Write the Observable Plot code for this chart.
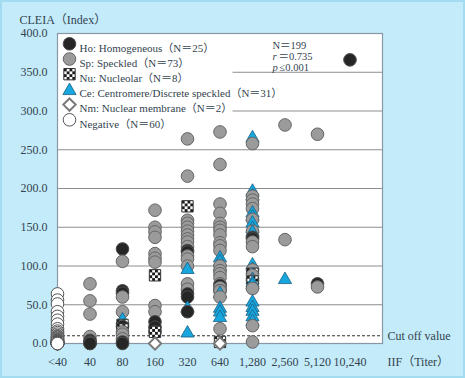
<!DOCTYPE html>
<html>
<head>
<meta charset="utf-8">
<script src="https://cdn.jsdelivr.net/npm/d3@7"></script>
<script src="https://cdn.jsdelivr.net/npm/@observablehq/plot@0.6"></script>
<style>
  html, body { margin: 0; padding: 0; }
  body {
    width: 465px; height: 378px; overflow: hidden;
    background: #c4ebf9;
    box-shadow: inset 0 0 0 2px #a3dcf0;
  }
  #chart svg { display: block; }
</style>
</head>
<body>
<div id="chart"></div>
<script>
// IIF titer categories along the x axis
const titers = ["<40", "40", "80", "160", "320", "640", "1,280", "2,560", "5,120", "10,240"];

// CLEIA index values per titer, one list per staining pattern
const homogeneous = [
  ["40", [4, 2, 1, 0, 0]],
  ["80", [122, 68, 65, 22, 2, 0]],
  ["160", [28, 21, 15]],
  ["320", [120, 118, 64, 60, 41]],
  ["640", [75, 68]],
  ["1,280", [137, 135]],
  ["5,120", [77]],
  ["10,240", [366]]
];
const speckled = [
  ["40", [77, 55, 38, 9]],
  ["80", [106, 60, 41, 15, 12, 6]],
  ["160", [172, 150, 144, 137, 116, 110, 105, 49, 41]],
  ["320", [264, 216, 159, 155, 150, 145, 140, 135, 131, 125, 113, 109, 100, 77, 70]],
  ["640", [273, 231, 180, 168, 155, 150, 146, 140, 130, 126, 120, 100, 94, 90, 85, 77, 72, 68, 60, 19]],
  ["1,280", [258, 190, 185, 180, 174, 160, 145, 131, 125, 95, 88, 81, 71, 23, 2]],
  ["2,560", [282, 134]],
  ["5,120", [270, 73]]
];
const nucleolar = [
  ["80", [24, 18]],
  ["160", [88, 15]],
  ["320", [177]],
  ["640", [2]],
  ["1,280", [90, 80]]
];
const centromere = [
  ["80", [32]],
  ["320", [97, 47, 15]],
  ["640", [112, 107, 101, 66, 47, 42, 35]],
  ["1,280", [267, 198, 192, 170, 165, 157, 150, 145, 103, 97, 90, 84, 80, 77, 55, 48, 43, 36, 30]],
  ["2,560", [84]]
];
const nuclearMembrane = [
  ["160", [0]],
  ["640", [0]]
];
const negative = [
  ["<40", [64, 56, 51, 41, 35, 30, 25, 19, 16, 14, 12, 10, 9, 8, 7, 6, 5, 4, 4, 3,
           3, 2, 2, 2, 1.5, 1.5, 1, 1, 1, 1, 0.8, 0.8, 0.6, 0.6, 0.5, 0.5, 0.5, 0.4, 0.4, 0.4,
           0.3, 0.3, 0.3, 0.3, 0.2, 0.2, 0.2, 0.2, 0.2, 0.1, 0.1, 0.1, 0.1, 0.1, 0, 0, 0, 0, 0, 0]]
];

const cutoff = 10;
const stats = { n: 199, r: "0.735", p: "0.001" };

// ---- drawing ----
const FONT = "'Liberation Serif', 'Noto Sans CJK JP', serif";
const INK = "#33444f";
const R = 6.3;

// marker shapes sized from the dot radius
const triangle = { draw(ctx, size) {
  const r = Math.sqrt(size / Math.PI), w = r * 1.05;
  ctx.moveTo(0, -r * 1.0); ctx.lineTo(w, r * 0.82); ctx.lineTo(-w, r * 0.82); ctx.closePath();
}};
const square = { draw(ctx, size) {
  const h = Math.sqrt(size / Math.PI) * 0.9;
  ctx.rect(-h, -h, 2 * h, 2 * h);
}};
const diamond = { draw(ctx, size) {
  const h = Math.sqrt(size / Math.PI) * 0.98;
  ctx.moveTo(0, -h); ctx.lineTo(h, 0); ctx.lineTo(0, h); ctx.lineTo(-h, 0); ctx.closePath();
}};

const groups = [
  { key: "Ho", name: "Ho: Homogeneous", rows: homogeneous, symbol: d3.symbolCircle, fill: "#262626", stroke: "#4d4d4d", sw: 1 },
  { key: "Sp", name: "Sp: Speckled", rows: speckled, symbol: d3.symbolCircle, fill: "#9b9b9b", stroke: "#666666", sw: 1 },
  { key: "Nu", name: "Nu: Nucleolar", rows: nucleolar, symbol: square, fill: "url(#nu-checker)", stroke: "#333333", sw: 1 },
  { key: "Ce", name: "Ce: Centromere/Discrete speckled", rows: centromere, symbol: triangle, fill: "#18a6df", stroke: "#1b5f82", sw: 0.8 },
  { key: "Nm", name: "Nm: Nuclear membrane", rows: nuclearMembrane, symbol: diamond, fill: "#ffffff", stroke: "#7a7a7a", sw: 2 },
  { key: "Neg", name: "Negative", rows: negative, symbol: d3.symbolCircle, fill: "#ffffff", stroke: "#555555", sw: 1 }
];

const points = [];
for (const g of groups) {
  g.count = 0;
  for (const [t, values] of g.rows) {
    for (const v of values) {
      points.push({ g, t: titers.indexOf(t), v });
      g.count++;
    }
  }
}
// lower points are painted last so they sit on top of the ones above
points.sort((a, b) => b.v - a.v);

const legendRows = groups.map((g) => ({ g, label: `${g.name}（N＝${g.count}）` }));

const grid = d3.range(50, 400, 50);

const chart = Plot.plot({
  width: 465,
  height: 378,
  marginLeft: 57,
  marginRight: 83,
  marginTop: 33,
  marginBottom: 35,
  style: { fontFamily: FONT, fontSize: "12px", color: INK, background: "transparent", overflow: "visible" },
  x: { domain: [0, 10], ticks: d3.range(titers.length), tickFormat: (i) => titers[i], tickSize: 0, tickPadding: 14, label: null },
  y: { domain: [0, 400], ticks: d3.range(0, 401, 50), tickFormat: d3.format(".1f"), tickSize: 0, tickPadding: 10, label: null },
  color: { type: "identity" },
  marks: [
    Plot.frame({ fill: "white", stroke: null }),
    Plot.ruleY(grid, { stroke: "#8d8d8d", strokeWidth: 1 }),
    // white panel behind the legend
    (index, scales, values, dims) =>
      d3.create("svg:rect")
        .attr("x", dims.marginLeft + 0.5)
        .attr("y", dims.marginTop + 0.5)
        .attr("width", 175)
        .attr("height", 92)
        .attr("fill", "white")
        .node(),
    Plot.ruleY([cutoff], { stroke: "#333", strokeWidth: 1, strokeDasharray: "3,2" }),
    Plot.frame({ stroke: "#8797a5", strokeWidth: 1.2 }),
    Plot.dot(points, {
      x: "t",
      y: "v",
      r: R,
      symbol: (d) => d.g.symbol,
      fill: (d) => d.g.fill,
      stroke: (d) => d.g.stroke,
      strokeWidth: (d) => d.g.sw
    }),
    // legend
    ...legendRows.flatMap((row, i) => [
      Plot.dot([row], {
        frameAnchor: "top-left", dx: 12, dy: 10.3 + i * 15.2, r: R,
        symbol: () => row.g.symbol, fill: () => row.g.fill, stroke: () => row.g.stroke, strokeWidth: row.g.sw
      }),
      Plot.text([row], {
        frameAnchor: "top-left", dx: 22, dy: 10.3 + i * 15.2, text: (d) => d.label,
        textAnchor: "start", fontSize: 11, fill: INK
      })
    ]),
    // correlation summary
    Plot.text([`N＝${stats.n}`], { frameAnchor: "top-right", dx: -110, dy: 8, textAnchor: "start", fontSize: 10.5, fill: INK }),
    Plot.text(["r"], { frameAnchor: "top-right", dx: -110, dy: 19, textAnchor: "start", fontSize: 10.5, fontStyle: "italic", fill: INK }),
    Plot.text([`＝${stats.r}`], { frameAnchor: "top-right", dx: -104, dy: 19, textAnchor: "start", fontSize: 10.5, fill: INK }),
    Plot.text(["p"], { frameAnchor: "top-right", dx: -110, dy: 30, textAnchor: "start", fontSize: 10.5, fontStyle: "italic", fill: INK }),
    Plot.text([`≤${stats.p}`], { frameAnchor: "top-right", dx: -103, dy: 30, textAnchor: "start", fontSize: 10.5, fill: INK }),
    // axis titles and cut-off label
    Plot.text(["CLEIA（Index）"], { frameAnchor: "top-left", dx: -38, dy: -18.5, textAnchor: "start", fontSize: 12, fill: INK }),
    Plot.text(["IIF（Titer）"], { frameAnchor: "bottom-right", dx: 5, dy: 22, textAnchor: "start", fontSize: 12, fill: INK }),
    Plot.text(["Cut off value"], { x: 10, y: cutoff, dx: 5, textAnchor: "start", fontSize: 12, fill: INK })
  ]
});

// checkerboard fill for the nucleolar markers
const defs = d3.select(chart).insert("defs", ":first-child");
const pat = defs.append("pattern")
  .attr("id", "nu-checker")
  .attr("patternUnits", "objectBoundingBox")
  .attr("patternContentUnits", "objectBoundingBox")
  .attr("width", 0.5).attr("height", 0.5);
pat.append("rect").attr("width", 0.5).attr("height", 0.5).attr("fill", "#ffffff");
pat.append("rect").attr("width", 0.25).attr("height", 0.25).attr("fill", "#1a1a1a");
pat.append("rect").attr("x", 0.25).attr("y", 0.25).attr("width", 0.25).attr("height", 0.25).attr("fill", "#1a1a1a");

document.getElementById("chart").append(chart);
</script>
</body>
</html>
